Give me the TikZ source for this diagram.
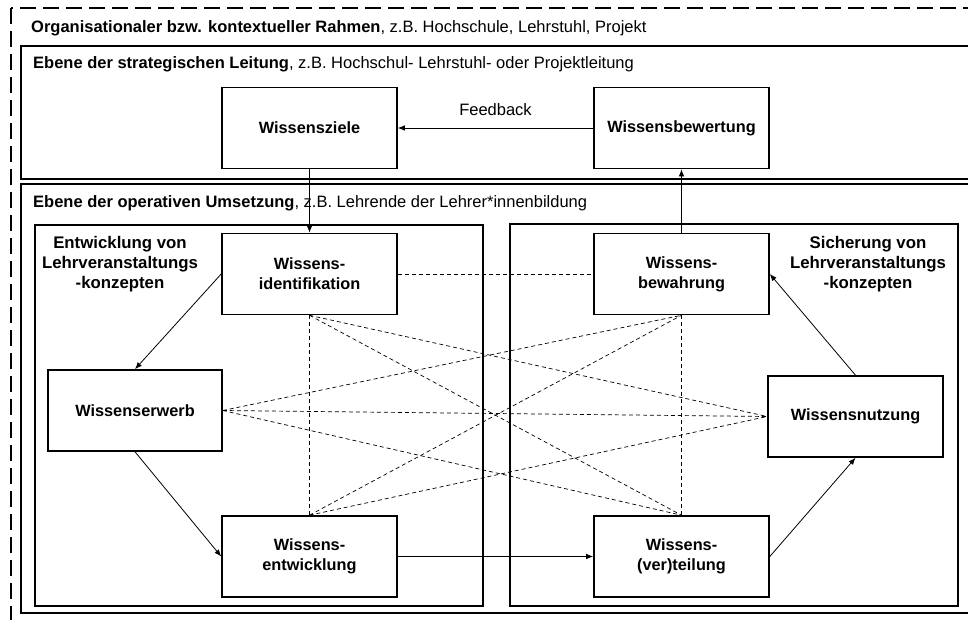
\documentclass[tikz,border=0pt]{standalone}
\usepackage{fontspec}
\setmainfont{Liberation Sans}
\usetikzlibrary{arrows.meta}

\begin{document}
\begin{tikzpicture}[x=1pt,y=-1pt,
    font=\fontsize{16.5}{20}\selectfont,
    frame/.style={draw,line width=1.6pt},
    wbox/.style={draw,fill=white,line width=1.6pt,minimum width=175pt,
      minimum height=81pt,inner sep=0pt,align=center,
      font=\fontsize{16.3}{20}\selectfont\bfseries},
    head/.style={anchor=base west,inner sep=0pt},
    phase/.style={align=center,inner sep=0pt,
      font=\fontsize{16.8}{20}\selectfont\bfseries},
    flow/.style={-{Latex[length=7pt,width=5.5pt]},line width=0.8pt},
    link/.style={dash pattern=on 4pt off 3pt,line width=0.7pt}]
  \useasboundingbox (0,0) rectangle (968,620);
  \clip (0,0) rectangle (968,620);

  % frames
  \draw[line width=1.6pt,dash pattern=on 16pt off 7pt] (11,8) rectangle (990,640);
  \draw[frame] (21,46) rectangle (990,179);
  \draw[frame] (21,184) rectangle (990,613);
  \draw[frame] (35,225) rectangle (483,606);
  \draw[frame] (510,224) rectangle (958,606);

  % headings
  \node[head] (rahmen) at (31,33) {\textbf{Organisationaler bzw. kontextueller Rahmen}, z.B. Hochschule, Lehrstuhl, Projekt};
  \node[head] (strat) at (33,69) {\textbf{Ebene der strategischen Leitung}, z.B. Hochschul- Lehrstuhl- oder Projektleitung};
  \node[head] (oper) at (33,208) {\textbf{Ebene der operativen Umsetzung}, z.B. Lehrende der Lehrer*innenbildung};
  \node[phase] (entw) at (120,264) {Entwicklung von\\Lehrveranstaltungs\\-konzepten};
  \node[phase] (sich) at (868,264) {Sicherung von\\Lehrveranstaltungs\\-konzepten};

  % knowledge boxes
  \node[wbox] (ziele) at (309.5,128) {Wissensziele};
  \node[wbox] (bewertung) at (681.5,128) {Wissensbewertung};
  \node[wbox] (ident) at (309.5,274) {Wissens-\\identifikation};
  \node[wbox] (bewahr) at (681.5,274) {Wissens-\\bewahrung};
  \node[wbox,minimum width=174pt] (erwerb) at (135,410.5) {Wissenserwerb};
  \node[wbox] (nutzung) at (855.5,416.5) {Wissensnutzung};
  \node[wbox] (entwickl) at (309.5,556.5) {Wissens-\\entwicklung};
  \node[wbox] (verteil) at (681.5,556.5) {Wissens-\\(ver)teilung};

  % dashed links
  \draw[link] (ident.east) -- (bewahr.west);
  \draw[link] (ident.south) -- (entwickl.north);
  \draw[link] (bewahr.south) -- (verteil.north);
  \draw[link] (ident.south) -- (nutzung.west);
  \draw[link] (ident.south) -- (verteil.north);
  \draw[link] (erwerb.east) -- (bewahr.south);
  \draw[link] (erwerb.east) -- (nutzung.west);
  \draw[link] (erwerb.east) -- (verteil.north);
  \draw[link] (entwickl.north) -- (bewahr.south);
  \draw[link] (entwickl.north) -- (nutzung.west);

  % arrows
  \draw[flow] (bewertung.west) -- node[above=9pt] {Feedback} (ziele.east);
  \draw[flow] (ziele.south) -- (ident.north);
  \draw[flow] (ident.west) -- (erwerb.north);
  \draw[flow] (erwerb.south) -- (entwickl.west);
  \draw[flow] (entwickl.east) -- (verteil.west);
  \draw[flow] (verteil.east) -- (nutzung.south);
  \draw[flow] (nutzung.north) -- (bewahr.east);
  \draw[flow] (bewahr.north) -- (bewertung.south);
\end{tikzpicture}
\end{document}
